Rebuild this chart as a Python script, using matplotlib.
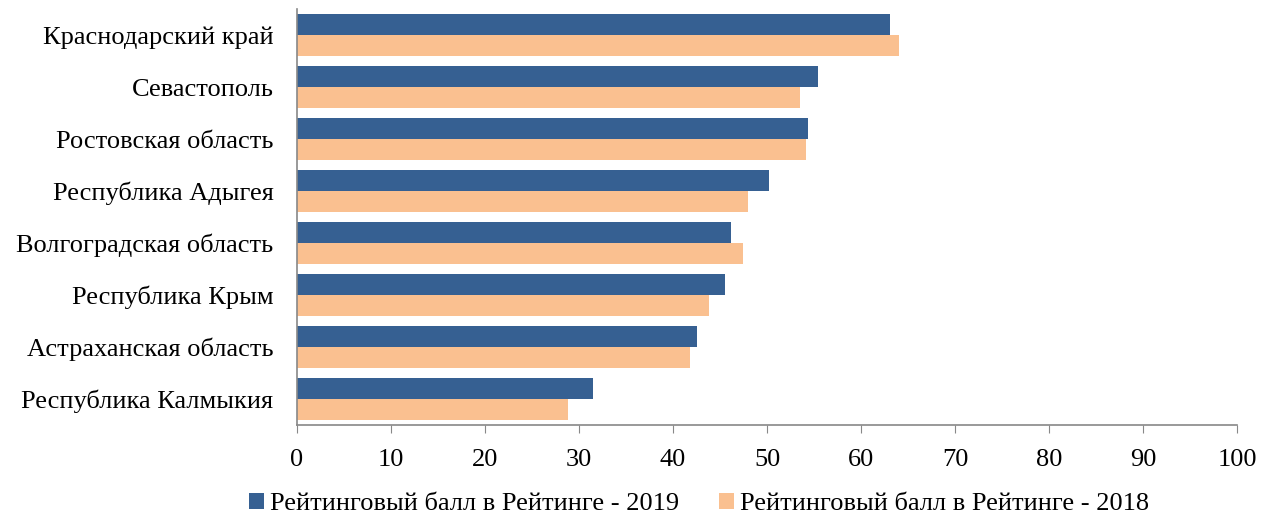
import numpy as np
import matplotlib.pyplot as plt

plt.rcParams['font.family'] = ['Liberation Serif', 'DejaVu Serif']

regions = ['Краснодарский край', 'Севастополь', 'Ростовская область', 'Республика Адыгея',
           'Волгоградская область', 'Республика Крым', 'Астраханская область', 'Республика Калмыкия']
score_2019 = [63.1, 55.4, 54.4, 50.2, 46.2, 45.5, 42.5, 31.5]
score_2018 = [64.0, 53.5, 54.2, 48.0, 47.4, 43.8, 41.8, 28.8]

fig = plt.figure(figsize=(12.72, 5.14), dpi=100)
ax = fig.add_axes([0.2335, 0.173, 0.739, 0.8095])

y = np.arange(len(regions))
h = 0.4
ax.barh(y - h / 2, score_2019, height=h, color='#366092', label='Рейтинговый балл в Рейтинге - 2019')
ax.barh(y + h / 2, score_2018, height=h, color='#FAC090', label='Рейтинговый балл в Рейтинге - 2018')

ax.set_ylim(len(regions) - 0.5, -0.5)
ax.set_xlim(0, 100)
ax.set_yticks(y)
ax.set_yticklabels(regions, fontsize=19)
ax.tick_params(axis='y', length=0, pad=17)
ax.set_xticks(np.arange(0, 101, 10))
ax.tick_params(axis='x', labelsize=19, direction='out', length=6, color='#888888', pad=11)

for s in ['top', 'right']:
    ax.spines[s].set_visible(False)
for s in ['left', 'bottom']:
    ax.spines[s].set_color('#888888')
    ax.spines[s].set_linewidth(1.2)

ax.legend(loc='center', bbox_to_anchor=(0.428, -0.19), ncol=2, frameon=False,
          fontsize=19, handlelength=0.55, handleheight=0.55, handletextpad=0.25, columnspacing=1.5)

fig.savefig('out.png', dpi=100)
